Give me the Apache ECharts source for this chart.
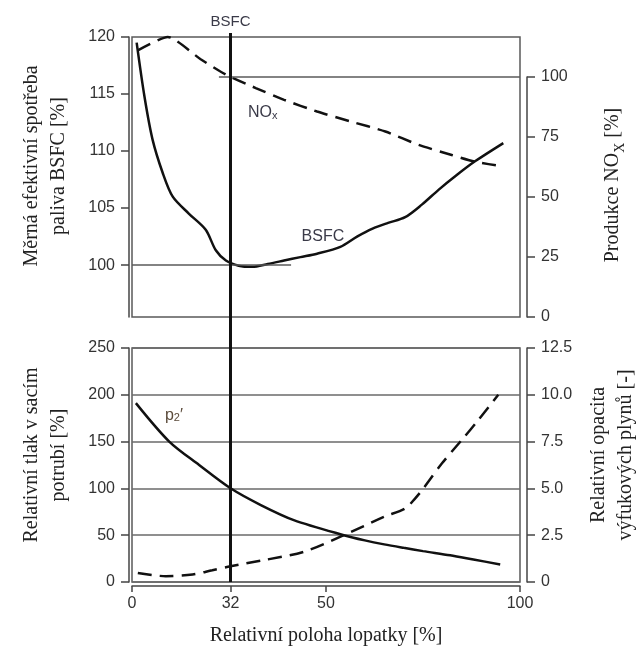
<!DOCTYPE html>
<html><head><meta charset="utf-8">
<script src="https://cdn.jsdelivr.net/npm/echarts@6/dist/echarts.min.js"></script>
<style>html,body{margin:0;padding:0;background:#fff}#c{width:643px;height:659px}</style>
</head><body><div id="c"></div>
<script>
// ---- data (x = relative vane position, linear 0..100 scale of the figure) ----
const bsfcX = [1.2, 3.2, 5.3, 7.9, 10.5, 14.7, 19.0, 21.6, 24.2, 27.5, 31.0, 35.0, 39.2, 43.4, 47.7, 53.7, 58.0, 62.0, 66.0, 70.4, 74.7, 79.0, 83.7, 88.4, 95.7];
const bsfcY = [119.5, 114.8, 111.0, 108.1, 106.0, 104.5, 103.1, 101.3, 100.4, 99.95, 99.85, 100.1, 100.4, 100.7, 101.0, 101.6, 102.5, 103.2, 103.7, 104.2, 105.3, 106.6, 107.9, 109.1, 110.7];
const noxX = [1.5, 9.2, 17.7, 24.2, 31.9, 39.2, 47.7, 56.3, 65.3, 73.9, 82.4, 88.4, 95.7];
const noxY = [111.1, 116.7, 107.4, 101.0, 95.4, 90.5, 85.6, 81.5, 77.3, 71.7, 67.5, 64.7, 62.7];
const p2X = [1.0, 9.6, 17.3, 25.4, 33.2, 41.7, 54.6, 60.0, 65.0, 70.0, 75.0, 82.0, 88.0, 94.9];
const p2Y = [191.1, 150.0, 125.0, 100.1, 82.2, 66.1, 50.0, 44.5, 40.2, 36.5, 33.0, 28.5, 24.0, 18.8];
const opX = [1.5, 8.7, 15.6, 20.7, 25.4, 33.5, 44.2, 54.6, 64.9, 70.4, 73.0, 75.1, 79.9, 85.0, 89.3, 94.4];
const opY = [0.48, 0.31, 0.40, 0.63, 0.84, 1.15, 1.61, 2.5, 3.48, 3.93, 4.47, 5.0, 6.34, 7.59, 8.66, 10.0];

const xTickValues = [0, 25.4, 50, 100];
const xTickLabels = ['0', '32', '50', '100'];
const bsfcMin = 95.45;
const bsfcPos = 25.4;           // optimum vane position (labelled 32)
const bsfcRefLine = [0, 41, 100];  // x from, x to, BSFC value
const noxRefLine = [22.4, 100, 100]; // x from, x to, NOx value

const zip = (xs, ys) => xs.map((x, i) => [x, ys[i]]);

const L = 132, R = 123;
const axisCol = '#444', frameCol = '#5a5a5a', gridCol = '#6a6a6a', ink = '#111', txt = '#333';
const sans = '"Liberation Sans", Arial, sans-serif';
const serif = '"Liberation Serif", "Times New Roman", serif';
const lblStyle = {fontSize: 16, color: txt, fontFamily: sans};
const nameStyle = (pad) => ({fontFamily: serif, fontSize: 20, lineHeight: 27, color: '#222', padding: pad});
const axLine = {show: true, onZero: false, lineStyle: {color: axisCol, width: 1.5}};
const axTick = {show: true, inside: false, length: 8, lineStyle: {color: axisCol, width: 1.5}};

const hiddenX = (g) => ({type: 'value', gridIndex: g, min: 0, max: 100, show: false});
const gridBase = {left: L, right: R, outerBoundsMode: 'none', containLabel: false};

const option = {
  animation: false,
  backgroundColor: '#fff',
  grid: [
    Object.assign({top: 37, height: 280, show: true, borderColor: frameCol, borderWidth: 1.5}, gridBase),
    Object.assign({top: 77, height: 240}, gridBase),
    Object.assign({top: 348, height: 234, show: true, borderColor: frameCol, borderWidth: 1.5}, gridBase),
    Object.assign({top: 33, height: 549}, gridBase)
  ],
  xAxis: [
    hiddenX(0), hiddenX(1),
    {
      type: 'value', gridIndex: 2, min: 0, max: 100, offset: 4,
      axisLine: axLine,
      axisTick: Object.assign({}, axTick, {length: 6, customValues: xTickValues}),
      axisLabel: Object.assign({margin: 10, customValues: xTickValues,
        formatter: v => { const i = xTickValues.findIndex(t => Math.abs(t - v) < 1e-6); return i >= 0 ? xTickLabels[i] : ''; }}, lblStyle),
      splitLine: {show: false},
      name: 'Relativní poloha lopatky [%]', nameLocation: 'middle', nameGap: 40,
      nameTextStyle: {fontFamily: serif, fontSize: 20, color: '#222'}
    },
    hiddenX(3)
  ],
  yAxis: [
    {
      type: 'value', gridIndex: 0, position: 'left', offset: 3, min: bsfcMin, max: 120,
      axisLine: axLine, axisTick: axTick,
      axisLabel: Object.assign({margin: 14, showMinLabel: false}, lblStyle),
      splitLine: {show: false},
      name: 'Měrná efektivní spotřeba\npaliva BSFC [%]', nameLocation: 'middle', nameRotate: 90, nameGap: 57,
      nameTextStyle: nameStyle([0, 0, 0, 22])
    },
    {
      type: 'value', gridIndex: 1, position: 'right', offset: 7, min: 0, max: 100, interval: 25,
      axisLine: axLine, axisTick: axTick,
      axisLabel: Object.assign({margin: 14}, lblStyle),
      splitLine: {show: false},
      name: 'Produkce NO{s|X} [%]', nameLocation: 'middle', nameRotate: 90, nameGap: 72,
      nameTextStyle: {fontFamily: serif, fontSize: 20, lineHeight: 28, color: '#222', padding: [0, 0, 0, 24],
        rich: {s: {fontFamily: serif, fontSize: 14, lineHeight: 14, verticalAlign: 'bottom', color: '#222'}}}
    },
    {
      type: 'value', gridIndex: 2, position: 'left', offset: 3, min: 0, max: 250, interval: 50,
      axisLine: axLine, axisTick: axTick,
      axisLabel: Object.assign({margin: 14}, lblStyle),
      splitLine: {show: true, lineStyle: {color: gridCol, width: 1.5}},
      name: 'Relativní tlak v sacím\npotrubí [%]', nameLocation: 'middle', nameRotate: 90, nameGap: 57,
      nameTextStyle: nameStyle([0, 0, 0, 20])
    },
    {
      type: 'value', gridIndex: 2, position: 'right', offset: 7, min: 0, max: 12.5, interval: 2.5,
      axisLine: axLine, axisTick: axTick,
      axisLabel: Object.assign({margin: 14, formatter: v => v === 0 ? '0' : v.toFixed(1)}, lblStyle),
      splitLine: {show: false},
      name: 'Relativní opacita\nvýfukových plynů [-]', nameLocation: 'middle', nameRotate: 90, nameGap: 58,
      nameTextStyle: nameStyle([0, 0, 0, 20])
    },
    {type: 'value', gridIndex: 3, min: 0, max: 1, show: false}
  ],
  series: [
    {
      name: 'BSFC', type: 'line', xAxisIndex: 0, yAxisIndex: 0, data: zip(bsfcX, bsfcY),
      showSymbol: false, smooth: 0.3, lineStyle: {color: ink, width: 2.5},
      markLine: {silent: true, symbol: ['none', 'none'], label: {show: false},
        lineStyle: {color: frameCol, width: 1.5, type: 'solid'},
        data: [[{coord: [bsfcRefLine[0], bsfcRefLine[2]]}, {coord: [bsfcRefLine[1], bsfcRefLine[2]]}]]},
      markPoint: {silent: true, symbol: 'rect', symbolSize: 1, itemStyle: {color: 'transparent'},
        label: {show: true, position: 'inside', formatter: 'BSFC', fontSize: 16, color: '#3a3a48', fontFamily: sans},
        data: [{coord: [49.2, 102.5]}]}
    },
    {
      name: 'NOx', type: 'line', xAxisIndex: 1, yAxisIndex: 1, data: zip(noxX, noxY), clip: false,
      showSymbol: false, smooth: 0.2, lineStyle: {color: ink, width: 2.5, type: [14, 8]},
      markLine: {silent: true, symbol: ['none', 'none'], label: {show: false},
        lineStyle: {color: frameCol, width: 1.5, type: 'solid'},
        data: [[{coord: [noxRefLine[0], noxRefLine[2]]}, {coord: [noxRefLine[1], noxRefLine[2]]}]]},
      markPoint: {silent: true, symbol: 'rect', symbolSize: 1, itemStyle: {color: 'transparent'},
        label: {show: true, position: 'inside', formatter: 'NO{s|x}', fontSize: 16, color: '#3a3a48', fontFamily: sans,
          rich: {s: {fontSize: 11, color: '#3a3a48', fontFamily: sans, verticalAlign: 'bottom', lineHeight: 11, padding: [8, 0, 0, 0]}}},
        data: [{coord: [33.7, 85]}]}
    },
    {
      name: 'p2', type: 'line', xAxisIndex: 2, yAxisIndex: 2, data: zip(p2X, p2Y),
      showSymbol: false, smooth: 0.3, lineStyle: {color: ink, width: 2.5},
      markPoint: {silent: true, symbol: 'rect', symbolSize: 1, itemStyle: {color: 'transparent'},
        label: {show: true, position: 'inside', formatter: 'p{s|2}′', fontSize: 16, color: '#5a4a3a', fontFamily: sans,
          rich: {s: {fontSize: 11, color: '#5a4a3a', fontFamily: sans, verticalAlign: 'bottom', lineHeight: 11, padding: [8, 0, 0, 0]}}},
        data: [{coord: [10.8, 178]}]}
    },
    {
      name: 'opacity', type: 'line', xAxisIndex: 2, yAxisIndex: 3, data: zip(opX, opY),
      showSymbol: false, smooth: 0.3, lineStyle: {color: ink, width: 2.5, type: [14, 8]}
    },
    {
      name: 'optimum', type: 'line', xAxisIndex: 3, yAxisIndex: 4, data: [],
      markLine: {silent: true, symbol: ['none', 'none'],
        lineStyle: {color: ink, width: 3, type: 'solid'},
        label: {show: true, position: 'end', formatter: 'BSFC', fontSize: 15, color: '#3a3a48', fontFamily: sans, distance: 4},
        data: [{xAxis: bsfcPos}]}
    }
  ]
};
const chart = echarts.init(document.getElementById('c'), null, {renderer: 'canvas'});
chart.setOption(option);
</script></body></html>
